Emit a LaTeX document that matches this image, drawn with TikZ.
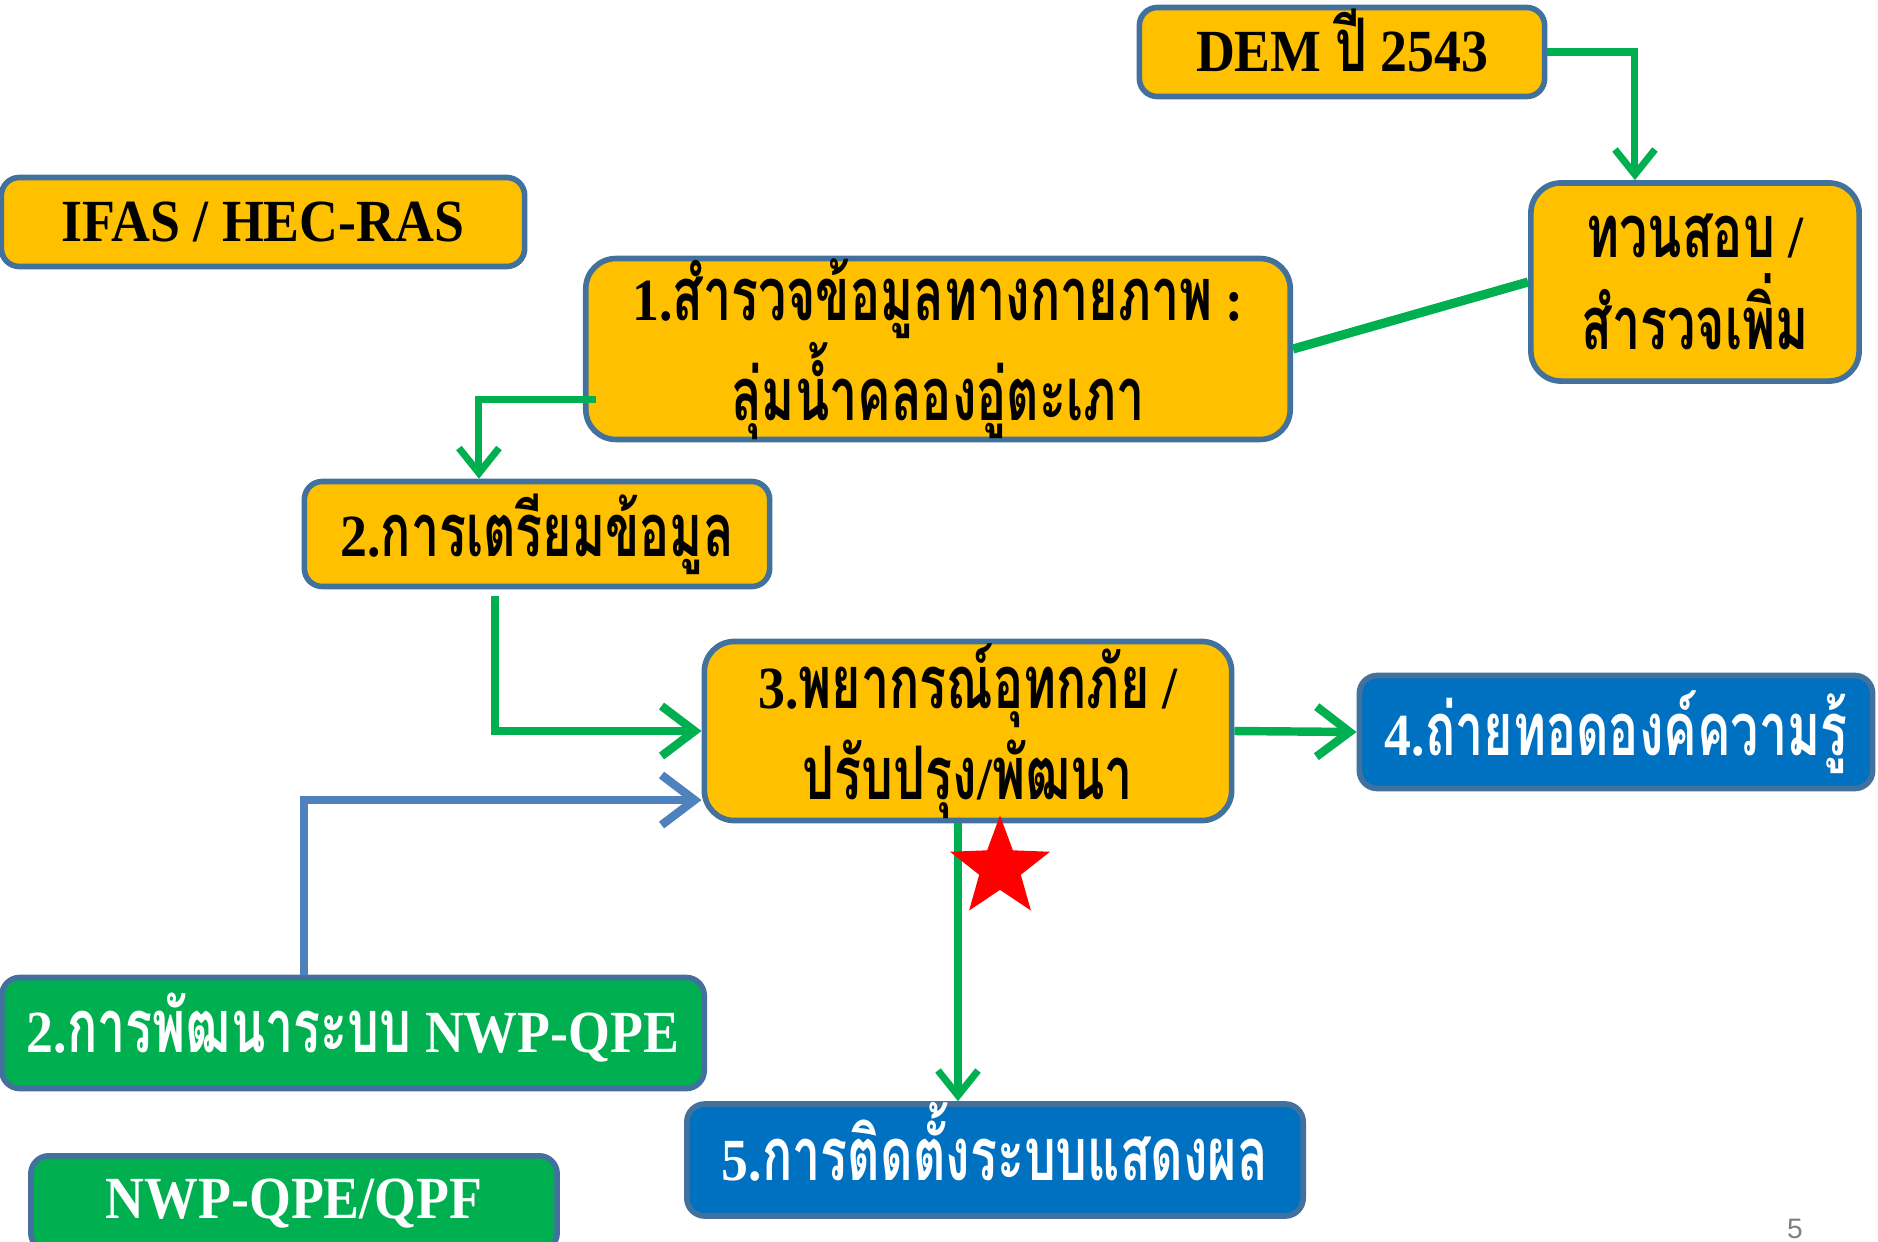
\documentclass[tikz,border=0pt]{standalone}
\usepackage{fontspec}
\setmainfont{Liberation Serif}[FakeStretch=0.9]
\newfontfamily\thaifont[Script=Thai,FakeStretch=0.68]{Loma}
\newfontfamily\pagefont{Liberation Sans}
\newcommand{\tht}[1]{{\thaifont\fontsize{21}{26}\selectfont #1}}
\usetikzlibrary{arrows.meta,shapes.geometric}

\definecolor{boxorange}{HTML}{FFC000}
\definecolor{boxgreen}{HTML}{00B050}
\definecolor{boxblue}{HTML}{0070C0}
\definecolor{edgeblue}{HTML}{41719C}
\definecolor{linkgreen}{HTML}{00B050}
\definecolor{linkblue}{HTML}{4F81BD}

\tikzset{
  box/.style={draw=edgeblue, line width=1.6pt, rounded corners=0.18cm,
    inner sep=0pt, align=center, font=\bfseries\fontsize{17}{26}\selectfont},
  orangebox/.style={box, fill=boxorange, text=black},
  greenbox/.style={box, fill=boxgreen, text=white},
  bluebox/.style={box, fill=boxblue, text=white},
  flow/.style={draw=linkgreen, line width=2pt,
    -{Straight Barb[length=0.25cm,width=0.4cm,line width=2pt]}},
  bigtip/.style={line width=2.4pt,
    -{Straight Barb[length=0.33cm,width=0.5cm,line width=2.4pt]}},
  feed/.style={draw=linkblue, line width=2.4pt,
    -{Straight Barb[length=0.33cm,width=0.5cm,line width=2.4pt]}},
  link/.style={draw=linkgreen, line width=2.6pt},
}

\begin{document}
\begin{tikzpicture}[x=0.01cm, y=-0.01cm]
  \clip (0,0) rectangle (1878,1242);
  % boxes
  \node[orangebox, minimum width=4.05cm, minimum height=0.89cm] (dem) at (1342,52)
    {\raisebox{-0.19cm}[0pt][0pt]{DEM \tht{ปี} 2543}};
  \node[orangebox, rounded corners=0.3cm, minimum width=3.28cm, minimum height=1.98cm] (check) at (1695,282)
    {\tht{ทวนสอบ} /\\ \tht{สำรวจเพิ่ม}};
  \node[orangebox, minimum width=5.23cm, minimum height=0.89cm] (ifas) at (263,222)
    {IFAS / HEC-RAS};
  \node[orangebox, rounded corners=0.3cm, minimum width=7.04cm, minimum height=1.75cm] (survey) at (938,349)
    {1.\tht{สำรวจข้อมูลทางกายภาพ} :\\ \tht{ลุ่มน้ำคลองอู่ตะเภา}};
  \node[orangebox, minimum width=4.65cm, minimum height=1.05cm] (prep) at (537,534)
    {2.\tht{การเตรียมข้อมูล}};
  \node[orangebox, rounded corners=0.3cm, minimum width=5.27cm, minimum height=1.79cm] (forecast) at (968,731)
    {3.\tht{พยากรณ์อุทกภัย} /\\ \tht{ปรับปรุง}/\tht{พัฒนา}};
  \node[bluebox, minimum width=5.13cm, minimum height=1.13cm] (transfer) at (1616,732)
    {4.\tht{ถ่ายทอดองค์ความรู้}};
  \node[greenbox, minimum width=7.02cm, minimum height=1.11cm] (nwp) at (353,1033)
    {\raisebox{-0.19cm}[0pt][0pt]{2.\tht{การพัฒนาระบบ} NWP-QPE}};
  \node[bluebox, minimum width=6.16cm, minimum height=1.12cm] (display) at (995,1160)
    {\raisebox{-0.2cm}[0pt][0pt]{5.\tht{การติดตั้งระบบแสดงผล}}};
  \node[greenbox, anchor=north, minimum width=5.26cm, minimum height=0.95cm] (qpf) at (294,1153)
    {NWP-QPE/QPF};
  \node[font=\pagefont\fontsize{8}{10}\selectfont, text=gray] (pagenum) at (1795,1229) {5};

  % connectors
  \draw[flow] (dem.east) -| ([xshift=-0.6cm]check.north);
  \draw[link] (survey.east) -- (check.west);
  \draw[flow] ([xshift=0.13cm,yshift=-0.5cm]survey.west) -| ([xshift=-0.58cm]prep.north);
  \draw[flow, bigtip] ([xshift=-0.42cm,yshift=-0.07cm]prep.south) |- (forecast.west);
  \draw[feed] ([xshift=-0.49cm]nwp.north) |- ([yshift=-0.69cm]forecast.west);
  \draw[flow, bigtip] (forecast.east) -- (transfer.west);
  \draw[flow] ([xshift=-0.1cm]forecast.south)
    -- ([xshift=-0.1cm]forecast.south |- display.north);
  \node[star, star points=5, star point ratio=2.4, fill=red, inner sep=0pt,
    minimum size=1.05cm] (redstar) at (1000,868) {};
\end{tikzpicture}
\end{document}
